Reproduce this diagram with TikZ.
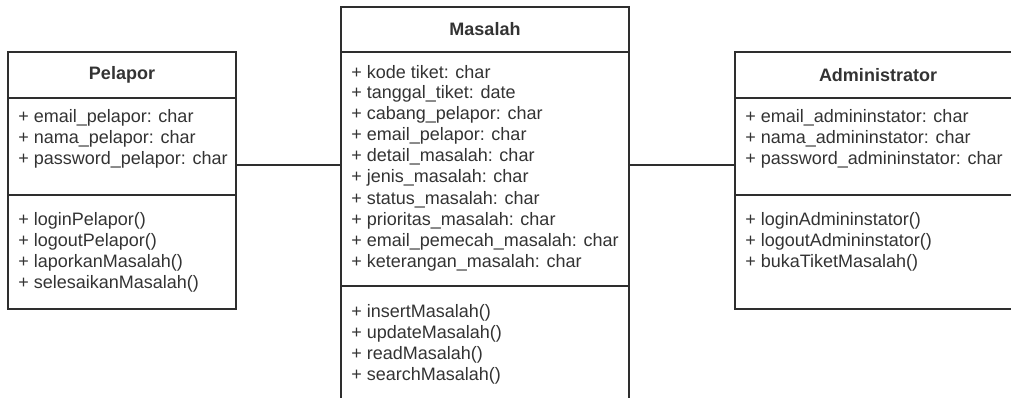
\documentclass[tikz,border=0pt]{standalone}
\usepackage{fontspec}
\setmainfont{Liberation Sans}
\usetikzlibrary{positioning}

\definecolor{linegray}{HTML}{2E2E2E}
\definecolor{textgray}{HTML}{333333}

\tikzset{
  compart/.style 2 args={draw=linegray, line width=1.1pt, outer sep=0pt,
    inner sep=0pt, anchor=north west,
    minimum width=#1*0.75pt, minimum height=#2*0.75pt},
  member/.style={anchor=west, inner sep=0pt, text=textgray},
  title/.style={text=textgray, font=\fontsize{13.5}{16}\selectfont\bfseries},
  assoc/.style={draw=linegray, line width=1.1pt}
}

\begin{document}
\begin{tikzpicture}[x=0.75pt, y=-0.75pt, font=\fontsize{13.5}{16}\selectfont]

  \useasboundingbox (0,0) rectangle (1011,398);
  \clip (0,0) rectangle (1011,398);

  % Pelapor
  \node [compart={228}{46}, title] (pelapor) at (8,52) {Pelapor};
  \node [compart={228}{97}, below=0pt of pelapor] (pelapor-attr) {};
  \node [compart={228}{114}, below=0pt of pelapor-attr] (pelapor-meth) {};

  \foreach \a [count=\i] in {email\_pelapor, nama\_pelapor, password\_pelapor}
    \node [member] (pelapor-a\i) at (18,97+21*\i) {+ \a: char};

  \foreach \m [count=\i] in {loginPelapor, logoutPelapor, laporkanMasalah, selesaikanMasalah}
    \node [member] (pelapor-m\i) at (18,200+21*\i) {+ \m()};

  % Masalah
  \node [compart={288}{45}, title] (masalah) at (341,7) {Masalah};
  \node [compart={288}{234}, below=0pt of masalah] (masalah-attr) {};
  \node [compart={288}{140}, below=0pt of masalah-attr] (masalah-meth) {};

  \foreach \a/\t [count=\i] in {kode tiket/char, tanggal\_tiket/date,
      cabang\_pelapor/char, email\_pelapor/char, detail\_masalah/char,
      jenis\_masalah/char, status\_masalah/char, prioritas\_masalah/char,
      email\_pemecah\_masalah/char, keterangan\_masalah/char}
    \node [member] (masalah-a\i) at (351,51+21.2*\i) {+ \a: \t};

  \foreach \m [count=\i] in {insertMasalah, updateMasalah, readMasalah, searchMasalah}
    \node [member] (masalah-m\i) at (351,292+21*\i) {+ \m()};

  % Administrator
  \node [compart={286}{46}, title] (admin) at (735,52) {Administrator};
  \node [compart={286}{97}, below=0pt of admin] (admin-attr) {};
  \node [compart={286}{114}, below=0pt of admin-attr] (admin-meth) {};

  \foreach \a [count=\i] in {email\_admininstator, nama\_admininstator, password\_admininstator}
    \node [member] (admin-a\i) at (745,97+21*\i) {+ \a: char};

  \foreach \m [count=\i] in {loginAdmininstator, logoutAdmininstator, bukaTiketMasalah}
    \node [member] (admin-m\i) at (745,200+21*\i) {+ \m()};

  % associations
  \coordinate (link) at ([yshift=-13.9pt]pelapor-attr.east);
  \draw [assoc] (link) -- (link -| masalah-attr.west);
  \draw [assoc] (masalah-attr.east |- link) -- (link -| admin-attr.west);

\end{tikzpicture}
\end{document}
